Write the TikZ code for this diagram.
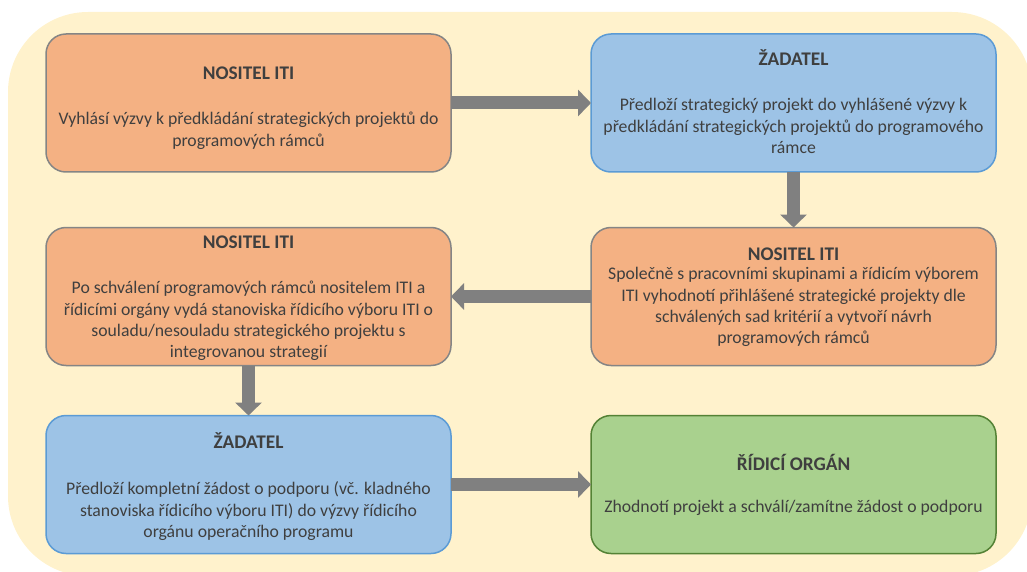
\documentclass[tikz,border=0pt]{standalone}
\usepackage{fontspec}
\setmainfont{Carlito}
\usetikzlibrary{arrows.meta}
\definecolor{bgy}{HTML}{FFF2CC}
\definecolor{ofill}{HTML}{F4B183}
\definecolor{oline}{HTML}{858585}
\definecolor{bfill}{HTML}{9DC3E6}
\definecolor{bline}{HTML}{5B9BD5}
\definecolor{gfill}{HTML}{A9D18E}
\definecolor{gline}{HTML}{548235}
\definecolor{arr}{HTML}{808080}
\definecolor{txt}{HTML}{3F3F3F}
\tikzset{
  box/.style={rectangle, rounded corners=20pt, line width=1.5pt, inner sep=0pt, outer sep=0pt,
    minimum width=405pt, minimum height=138pt},
  obox/.style={box, fill=ofill, draw=oline},
  bbox/.style={box, fill=bfill, draw=bline},
  gbox/.style={box, fill=gfill, draw=gline},
  ttl/.style={anchor=base, inner sep=0pt, text=txt, font=\fontsize{19.3}{23}\selectfont\bfseries},
  bdy/.style={anchor=north, inner sep=0pt, text=txt, align=center, font=\fontsize{17.7}{21.3}\selectfont},
  flow/.style={draw=arr, line width=13pt, -{Triangle[width=26pt,length=13pt]}},
}
\begin{document}
\begin{tikzpicture}[x=1pt,y=-1pt]
\useasboundingbox (0,0) rectangle (1027,572);
\fill[bgy, rounded corners=80pt] (8,12) rectangle (1032,576);
% boxes
\node[obox] (b1) at (248.5,103) {};
\node[bbox] (b2) at (793.5,103) {};
\node[obox] (b3) at (793.5,296.5) {};
\node[obox] (b4) at (248.5,296.5) {};
\node[bbox] (b5) at (248.5,484.5) {};
\node[gbox] (b6) at (793.5,484.5) {};
% texts
\node[ttl] (t1) at (248.5,80) {NOSITEL ITI};
\node[bdy] (d1) at (248.5,109.7) {\strut Vyhlásí výzvy k předkládání strategických projektů do\\programových rámců};
\node[ttl] (t2) at (793.5,66) {ŽADATEL};
\node[bdy] (d2) at (793.5,95.7) {\strut Předloží strategický projekt do vyhlášené výzvy k\\předkládání strategických projektů do programového\\rámce};
\node[ttl] (t3) at (793.5,260) {NOSITEL ITI};
\node[bdy] (d3) at (793.5,264.7) {\strut Společně s pracovními skupinami a řídicím výborem\\ITI vyhodnotí přihlášené strategické projekty dle\\schválených sad kritérií a vytvoří návrh\\programových rámců};
\node[ttl] (t4) at (248.5,248) {NOSITEL ITI};
\node[bdy] (d4) at (248.5,278.7) {\strut Po schválení programových rámců nositelem ITI a\\řídicími orgány vydá stanoviska řídicího výboru ITI o\\souladu/nesouladu strategického projektu s\\integrovanou strategií};
\node[ttl] (t5) at (248.5,448) {ŽADATEL};
\node[bdy] (d5) at (248.5,479.7) {\strut Předloží kompletní žádost o podporu (vč. kladného\\stanoviska řídicího výboru ITI) do výzvy řídicího\\orgánu operačního programu};
\node[ttl] (t6) at (793.5,470) {ŘÍDICÍ ORGÁN};
\node[bdy] (d6) at (793.5,497.7) {\strut Zhodnotí projekt a schválí/zamítne žádost o podporu};
% connectors
\draw[flow] (b1.east) -- (b2.west);
\draw[flow] (b2.south) -- (b3.north);
\draw[flow] (b3.west) -- (b4.east);
\draw[flow] (b4.south) -- (b5.north);
\draw[flow] (b5.east) -- (b6.west);
\end{tikzpicture}
\end{document}
